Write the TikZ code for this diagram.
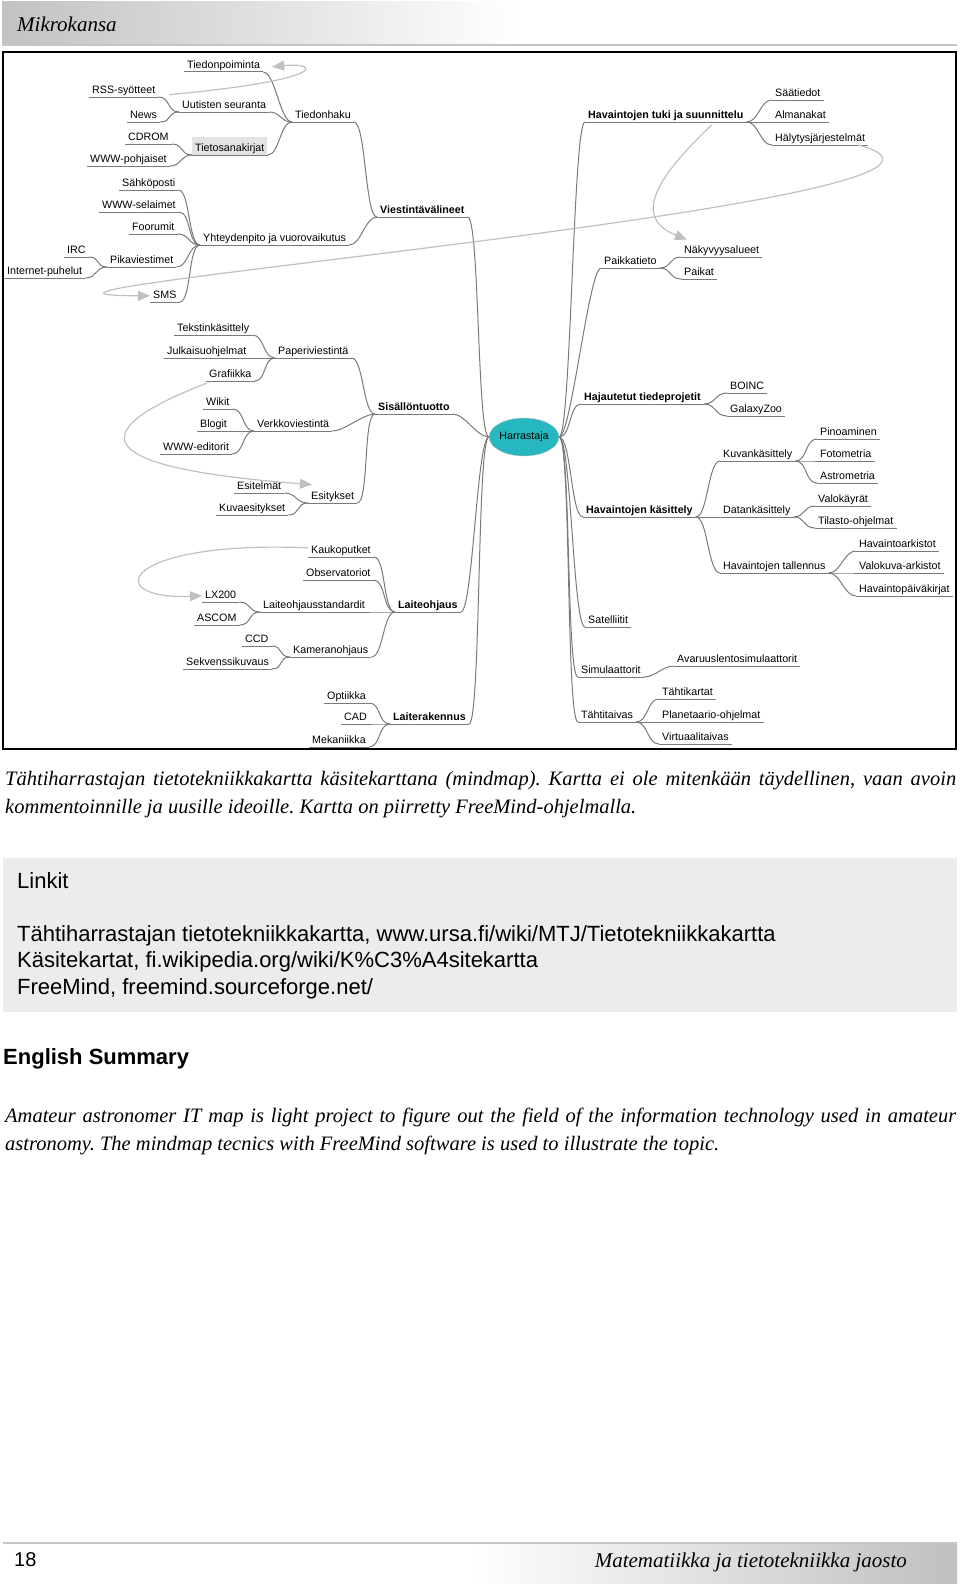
\documentclass[tikz,border=0pt]{standalone}
\usepackage{fontspec}
\setmainfont{Liberation Serif}
\newfontfamily\sansf{Liberation Sans}
\usetikzlibrary{arrows.meta,calc,shapes.geometric}
\definecolor{edgec}{RGB}{122,122,122}
\definecolor{linkc}{RGB}{192,192,192}
\definecolor{rootc}{RGB}{38,184,190}
\definecolor{boxc}{RGB}{236,236,236}
\newcommand\cn[2]{\draw[conn] (#1.south east) .. controls +(12,0) and +(-12,0) .. (#2.south west);}
\frenchspacing
\begin{document}
\begin{tikzpicture}[x=1pt,y=-1pt,
  mm/.style={font=\sansf\fontsize{10.7}{12}\selectfont, anchor=south west, inner xsep=3pt, inner ysep=1pt, text height=7.6pt, text depth=2.4pt},
  mmb/.style={mm, font=\sansf\bfseries\fontsize{10.7}{12}\selectfont},
  uline/.style={draw=edgec, line width=1pt},
  conn/.style={draw=edgec, line width=1pt},
  alink/.style={draw=linkc, line width=1.2pt, -{Triangle[length=12pt,width=10pt]}},
  capt/.style={anchor=base west, inner sep=0pt, font=\itshape\fontsize{20.5}{24}\selectfont},
  linkt/.style={anchor=base west, inner sep=0pt, font=\sansf\fontsize{22}{26}\selectfont},
]
\useasboundingbox (0,0) rectangle (960,1587);
% header
\shade[left color=gray!48, right color=white] (2,2) rectangle (520,45);
\draw[gray!45, line width=1.5pt] (2,45) -- (957,45);
\node[anchor=base west, inner sep=0pt, font=\itshape\fontsize{21}{24}\selectfont] (title) at (17,32) {Mikrokansa};
% frame
\draw[black, line width=2.5pt] (3,52) rectangle (956,749);

% root
\node[ellipse, fill=rootc, draw=gray!50, minimum width=66pt, minimum height=38pt, inner sep=0pt, font=\sansf\fontsize{10.7}{12}\selectfont] (root) at (524,437) {Harrastaja};

% left side
\node[mmb] (vv) at (377,217) {Viestintävälineet};
\node[mm] (th) at (292,122) {Tiedonhaku};
\node[mm] (tp) at (184,72) {Tiedonpoiminta};
\node[mm] (us) at (179,112) {Uutisten seuranta};
\node[mm] (rss) at (89,97) {RSS-syötteet};
\node[mm] (news) at (127,122) {News};
\node[mm, fill=gray!22, text height=13pt] (tsk) at (192,155) {Tietosanakirjat};
\node[mm] (cd) at (125,144) {CDROM};
\node[mm] (wwwp) at (87,166) {WWW-pohjaiset};
\node[mm] (yv) at (200,245) {Yhteydenpito ja vuorovaikutus};
\node[mm] (sp) at (119,190) {Sähköposti};
\node[mm] (wsel) at (99,212) {WWW-selaimet};
\node[mm] (foo) at (129,234) {Foorumit};
\node[mm] (pik) at (107,267) {Pikaviestimet};
\node[mm] (irc) at (64,257) {IRC};
\node[mm] (ip) at (4,278) {Internet-puhelut};
\node[mm] (sms) at (150,302) {SMS};
\node[mmb] (st) at (375,414) {Sisällöntuotto};
\node[mm] (pv) at (275,358) {Paperiviestintä};
\node[mm] (tk) at (174,335) {Tekstinkäsittely};
\node[mm] (jo) at (164,358) {Julkaisuohjelmat};
\node[mm] (gr) at (206,381) {Grafiikka};
\node[mm] (vk) at (254,431) {Verkkoviestintä};
\node[mm] (wik) at (203,409) {Wikit};
\node[mm] (blo) at (197,431) {Blogit};
\node[mm] (wed) at (160,454) {WWW-editorit};
\node[mm] (es) at (308,503) {Esitykset};
\node[mm] (esm) at (234,493) {Esitelmät};
\node[mm] (kva) at (216,515) {Kuvaesitykset};
\node[mmb] (lo) at (395,612) {Laiteohjaus};
\node[mm] (kp) at (308,557) {Kaukoputket};
\node[mm] (obs) at (303,580) {Observatoriot};
\node[mm] (los) at (260,612) {Laiteohjausstandardit};
\node[mm] (lx) at (202,602) {LX200};
\node[mm] (asc) at (194,625) {ASCOM};
\node[mm] (ko) at (290,657) {Kameranohjaus};
\node[mm] (ccd) at (242,646) {CCD};
\node[mm] (sek) at (183,669) {Sekvenssikuvaus};
\node[mmb] (lr) at (390,724) {Laiterakennus};
\node[mm] (opt) at (324,703) {Optiikka};
\node[mm] (cad) at (341,724) {CAD};
\node[mm] (mek) at (309,747) {Mekaniikka};

% right side
\node[mmb] (hts) at (585,122) {Havaintojen tuki ja suunnittelu};
\node[mm] (saa) at (772,100) {Säätiedot};
\node[mm] (alm) at (772,122) {Almanakat};
\node[mm] (hal) at (772,145) {Hälytysjärjestelmät};
\node[mm] (pt) at (601,268) {Paikkatieto};
\node[mm] (nak) at (681,257) {Näkyvyysalueet};
\node[mm] (pai) at (681,279) {Paikat};
\node[mmb] (htp) at (581,404) {Hajautetut tiedeprojetit};
\node[mm] (boi) at (727,393) {BOINC};
\node[mm] (gal) at (727,416) {GalaxyZoo};
\node[mmb] (hk) at (583,517) {Havaintojen käsittely};
\node[mm] (kuv) at (720,461) {Kuvankäsittely};
\node[mm] (pin) at (817,439) {Pinoaminen};
\node[mm] (fot) at (817,461) {Fotometria};
\node[mm] (ast) at (817,483) {Astrometria};
\node[mm] (dat) at (720,517) {Datankäsittely};
\node[mm] (val) at (815,506) {Valokäyrät};
\node[mm] (til) at (815,528) {Tilasto-ohjelmat};
\node[mm] (hta) at (720,573) {Havaintojen tallennus};
\node[mm] (har) at (856,551) {Havaintoarkistot};
\node[mm] (vka) at (856,573) {Valokuva-arkistot};
\node[mm] (hpk) at (856,596) {Havaintopäiväkirjat};
\node[mm] (sat) at (585,627) {Satelliitit};
\node[mm] (sim) at (578,677) {Simulaattorit};
\node[mm] (ava) at (674,666) {Avaruuslentosimulaattorit};
\node[mm] (tt) at (578,722) {Tähtitaivas};
\node[mm] (tka) at (659,699) {Tähtikartat};
\node[mm] (pla) at (659,722) {Planetaario-ohjelmat};
\node[mm] (vir) at (659,744) {Virtuaalitaivas};

% underlines
\foreach \n in {vv,th,tp,us,rss,news,tsk,cd,wwwp,yv,sp,wsel,foo,pik,irc,ip,sms,st,pv,tk,jo,gr,vk,wik,blo,wed,es,esm,kva,lo,kp,obs,los,lx,asc,ko,ccd,sek,lr,opt,cad,mek,hts,saa,alm,hal,pt,nak,pai,htp,boi,gal,hk,kuv,pin,fot,ast,dat,val,til,hta,har,vka,hpk,sat,sim,ava,tt,tka,pla,vir}
  \draw[uline] (\n.south west) -- (\n.south east);

% root connectors
\foreach \n in {vv,st,lo,lr}
  \draw[conn] (\n.south east) .. controls +(12,0) and +(-12,0) .. (root.west);
\foreach \n in {hts,pt,htp,hk,sat,sim,tt}
  \draw[conn] (root.east) .. controls +(12,0) and +(-12,0) .. (\n.south west);

% left connectors
\cn{th}{vv}\cn{yv}{vv}
\cn{tp}{th}\cn{us}{th}\cn{tsk}{th}
\cn{rss}{us}\cn{news}{us}
\cn{cd}{tsk}\cn{wwwp}{tsk}
\cn{sp}{yv}\cn{wsel}{yv}\cn{foo}{yv}\cn{pik}{yv}\cn{sms}{yv}
\cn{irc}{pik}\cn{ip}{pik}
\cn{pv}{st}\cn{vk}{st}\cn{es}{st}
\cn{tk}{pv}\cn{jo}{pv}\cn{gr}{pv}
\cn{wik}{vk}\cn{blo}{vk}\cn{wed}{vk}
\cn{esm}{es}\cn{kva}{es}
\cn{kp}{lo}\cn{obs}{lo}\cn{los}{lo}\cn{ko}{lo}
\cn{lx}{los}\cn{asc}{los}
\cn{ccd}{ko}\cn{sek}{ko}
\cn{opt}{lr}\cn{cad}{lr}\cn{mek}{lr}
% right connectors
\cn{hts}{saa}\cn{hts}{alm}\cn{hts}{hal}
\cn{pt}{nak}\cn{pt}{pai}
\cn{htp}{boi}\cn{htp}{gal}
\cn{hk}{kuv}\cn{hk}{dat}\cn{hk}{hta}
\cn{kuv}{pin}\cn{kuv}{fot}\cn{kuv}{ast}
\cn{dat}{val}\cn{dat}{til}
\cn{hta}{har}\cn{hta}{vka}\cn{hta}{hpk}
\cn{sim}{ava}
\cn{tt}{tka}\cn{tt}{pla}\cn{tt}{vir}

% arrow links
\draw[alink] ($(us.north west)+(-10,-5)$) .. controls (330,80) and (320,62) .. ($(tp.east)+(9,1)$);
\draw[alink] ($(hal.south east)+(-10,0)$) .. controls (1065,200) and (-110,295) .. (sms.west);
\draw[alink] ($(hts.south east)+(-35,3)$) .. controls (670,165) and (625,215) .. ($(nak.north west)+(6,-5)$);
\draw[alink] ($(gr.south west)+(1,2)$) .. controls (60,440) and (120,470) .. ($(es.north west)+(4,-6)$);
\draw[alink] ($(kp.west)+(0,-3)$) .. controls (120,540) and (100,600) .. (lx.west);

% caption
\node[capt] (cap1) at (5,785) {\hbox to 951pt{Tähtiharrastajan tietotekniikkakartta käsitekarttana (mindmap). Kartta ei ole mitenkään täydellinen, vaan avoin}};
\node[capt] (cap2) at (5,813) {kommentoinnille ja uusille ideoille. Kartta on piirretty FreeMind-ohjelmalla.};

% links box
\fill[boxc] (3,858) rectangle (957,1012);
\node[linkt] (lh) at (17,888) {Linkit};
\node[linkt] (l1) at (17,941) {Tähtiharrastajan tietotekniikkakartta, www.ursa.fi/wiki/MTJ/Tietotekniikkakartta};
\node[linkt] (l2) at (17,967) {Käsitekartat, fi.wikipedia.org/wiki/K\%C3\%A4sitekartta};
\node[linkt] (l3) at (17,994) {FreeMind, freemind.sourceforge.net/};

% summary
\node[anchor=base west, inner sep=0pt, font=\sansf\bfseries\fontsize{22}{26}\selectfont] (esum) at (3,1064) {English Summary};
\node[capt] (s1) at (5,1122) {\hbox to 951pt{Amateur astronomer IT map is light project to figure out the field of the information technology used in amateur}};
\node[capt] (s2) at (5,1150) {astronomy. The mindmap tecnics with FreeMind software is used to illustrate the topic.};

% footer
\shade[left color=white, right color=gray!50] (470,1544) rectangle (957,1583);
\draw[gray!45, line width=2.5pt] (3,1543) -- (957,1543);
\node[anchor=base west, inner sep=0pt, font=\sansf\fontsize{20}{24}\selectfont] (pg) at (14,1566) {18};
\node[anchor=base east, inner sep=0pt, font=\itshape\fontsize{21}{24}\selectfont] (ft) at (907,1567) {Matematiikka ja tietotekniikka jaosto};
\end{tikzpicture}
\end{document}
